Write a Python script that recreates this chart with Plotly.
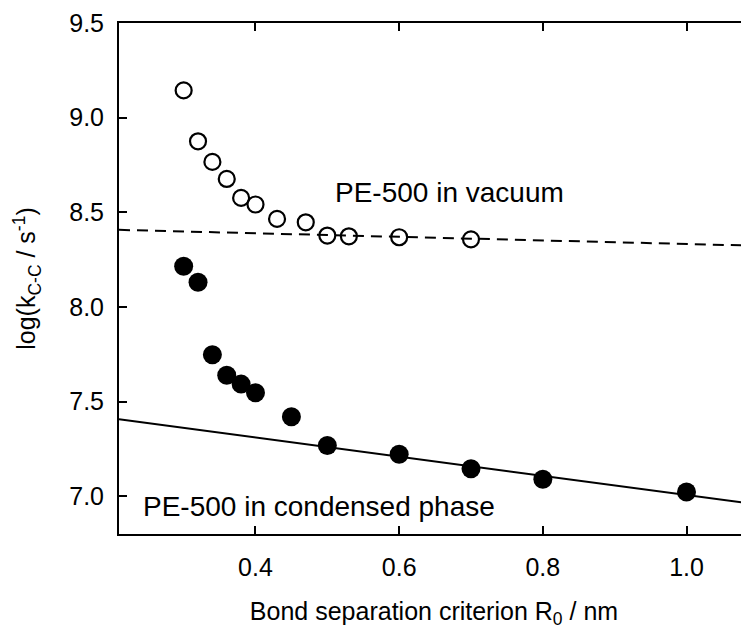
import plotly.graph_objects as go

# Vacuum (open circles)
r_vac = [0.30, 0.32, 0.34, 0.36, 0.38, 0.40, 0.43, 0.47, 0.50, 0.53, 0.60, 0.70]
k_vac = [9.144, 8.875, 8.766, 8.676, 8.576, 8.541, 8.465, 8.447, 8.377, 8.373, 8.368, 8.357]

# Condensed phase (filled circles)
r_cond = [0.30, 0.32, 0.34, 0.36, 0.38, 0.40, 0.45, 0.50, 0.60, 0.70, 0.80, 1.00]
k_cond = [8.215, 8.130, 7.747, 7.639, 7.592, 7.546, 7.420, 7.268, 7.221, 7.145, 7.089, 7.022]

# Linear fits (end points)
fit_x = [0.21, 1.087]
fit_vac = [8.407, 8.324]
fit_cond = [7.406, 6.962]

x_ticks = [0.4, 0.6, 0.8, 1.0]
x_ticklabels = ["0.4", "0.6", "0.8", "1.0"]
y_ticks = [7.0, 7.5, 8.0, 8.5, 9.0, 9.5]
y_ticklabels = ["7.0", "7.5", "8.0", "8.5", "9.0", "9.5"]

FONT = "Liberation Sans, Arial, sans-serif"

fig = go.Figure()
fig.add_trace(go.Scatter(x=fit_x, y=fit_vac, mode="lines",
                         line=dict(color="black", width=2, dash="11px,7px"),
                         showlegend=False, hoverinfo="skip"))
fig.add_trace(go.Scatter(x=fit_x, y=fit_cond, mode="lines",
                         line=dict(color="black", width=2),
                         showlegend=False, hoverinfo="skip"))
fig.add_trace(go.Scatter(x=r_vac, y=k_vac, mode="markers",
                         marker=dict(symbol="circle-open", size=16, color="black",
                                     line=dict(color="black", width=2.2)),
                         showlegend=False))
fig.add_trace(go.Scatter(x=r_cond, y=k_cond, mode="markers",
                         marker=dict(symbol="circle", size=19, color="black",
                                     line=dict(width=0)),
                         showlegend=False))

fig.add_annotation(x=0.508, y=8.602, xref="x", yref="y", text="PE-500 in vacuum",
                   showarrow=False, xanchor="left", yanchor="middle",
                   font=dict(family=FONT, size=28, color="black"))
fig.add_annotation(x=0.2403, y=6.944, xref="x", yref="y", text="PE-500 in condensed phase",
                   showarrow=False, xanchor="left", yanchor="middle",
                   font=dict(family=FONT, size=28, color="black"))

# page body has an 8px margin, so the figure is sized/offset to compensate
fig.update_layout(
    width=741, height=621,
    margin=dict(l=111, r=0, t=15, b=95, autoexpand=False),
    paper_bgcolor="white", plot_bgcolor="white",
    font=dict(family=FONT, size=25, color="black"),
    xaxis=dict(range=[0.21, 1.087], tickvals=x_ticks, ticktext=x_ticklabels,
               ticks="inside", ticklen=8, tickwidth=2, tickcolor="black",
               showline=True, linewidth=2, linecolor="black", mirror="ticks",
               showgrid=False, zeroline=False, automargin=False,
               tickfont=dict(size=25), ticklabelstandoff=10,
               title=dict(text="Bond separation criterion R<sub>0</sub> / nm",
                          font=dict(size=25), standoff=27)),
    yaxis=dict(range=[6.8, 9.5], tickvals=y_ticks, ticktext=y_ticklabels,
               ticks="inside", ticklen=8, tickwidth=2, tickcolor="black",
               showline=True, linewidth=2, linecolor="black", mirror=False,
               showgrid=False, zeroline=False, automargin=False,
               tickfont=dict(size=25), ticklabelstandoff=8,
               title=dict(text="log(k<sub>C-C</sub> / s<sup>-1</sup>)",
                          font=dict(size=25), standoff=26)),
)

fig.write_html("out.html")
